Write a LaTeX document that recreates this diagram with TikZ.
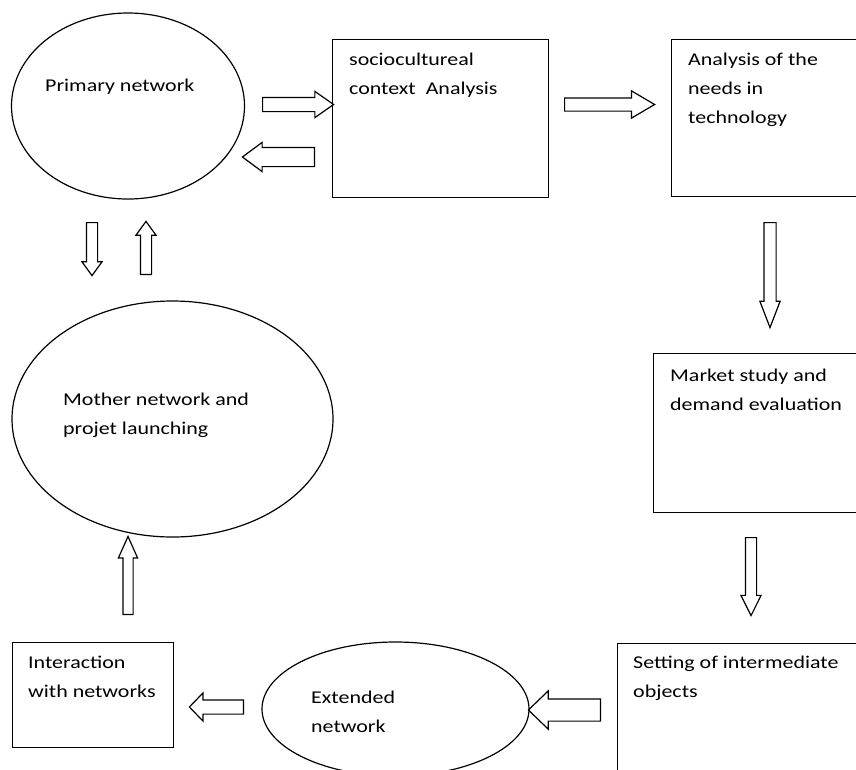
\documentclass[tikz,border=0pt]{standalone}
\usepackage{fontspec}
\setmainfont{Carlito}[FakeStretch=1.22]
\usetikzlibrary{shapes.geometric,shapes.arrows}
\begin{document}
\begin{tikzpicture}[x=1pt,y=-1pt,
  shapeline/.style={draw=black, line width=1.2pt},
  oval/.style={shapeline, ellipse, inner sep=0pt},
  box/.style={shapeline, rectangle, inner sep=0pt, anchor=north west},
  lbl/.style={anchor=north west, inner sep=0pt, align=left, font=\fontsize{18}{29}\selectfont},
  fat/.style n args={5}{shapeline, single arrow, anchor=tail, inner sep=#1,
     single arrow head extend=#2, single arrow tip angle=#3,
     minimum height=#4, shape border rotate=#5, single arrow head indent=0pt, minimum width=1pt},
]
\useasboundingbox (0,0) rectangle (856,769);
\clip (0,0) rectangle (856,769);

% shapes
\node[oval, minimum width=233pt, minimum height=186pt] (primary) at (128,106) {};
\node[box, minimum width=216pt, minimum height=158pt] (socio) at (332,39) {};
\node[box, minimum width=230pt, minimum height=157pt] (needs) at (671,39) {};
\node[oval, minimum width=321pt, minimum height=236pt] (mother) at (172.5,419) {};
\node[box, minimum width=250pt, minimum height=159pt] (market) at (653,353) {};
\node[box, minimum width=280pt, minimum height=160pt] (setting) at (617,643) {};
\node[oval, minimum width=267pt, minimum height=134pt] (extended) at (395.5,709) {};
\node[box, minimum width=161pt, minimum height=105pt] (interact) at (12,642) {};

% labels
\node[lbl] (tprimary) at (45,70.7) {\strut Primary network};
\node[lbl] (tsocio) at (349,44.7) {\strut sociocultureal\\context\ \ Analysis};
\node[lbl] (tneeds) at (688,44.7) {\strut Analysis of the\\needs in\\technology};
\node[lbl] (tmother) at (63,384.7) {\strut Mother network and\\projet launching};
\node[lbl] (tmarket) at (670,360.7) {\strut Market study and\\demand evaluation};
\node[lbl] (tsetting) at (633,647.7) {\strut Setting of intermediate\\objects};
\node[lbl] (textended) at (311,682.7) {\strut Extended\\network};
\node[lbl] (tinteract) at (28,647.7) {\strut Interaction\\with networks};

% block arrows
\node[fat={6.5pt}{6pt}{70}{71pt}{0}] (a1) at (262,104.5) {};
\node[fat={9pt}{5pt}{73}{72pt}{180}] (a2) at (315,157) {};
\node[fat={6pt}{7pt}{61}{90pt}{0}] (a3) at (564,104.5) {};
\node[fat={5.5pt}{4pt}{42}{105pt}{270}] (a4) at (770,222) {};
\node[fat={5pt}{4.5pt}{53}{78pt}{270}] (a5) at (751,537) {};
\node[fat={10.5pt}{8pt}{88}{72pt}{180}] (a6) at (601,710) {};
\node[fat={6.5pt}{7pt}{92}{54pt}{180}] (a7) at (244,707) {};
\node[fat={4.5pt}{4.5pt}{48}{78pt}{90}] (a8) at (128,615) {};
\node[fat={5pt}{4.5pt}{72}{53pt}{270}] (a9) at (92,222) {};
\node[fat={5pt}{4.5pt}{72}{53pt}{90}] (a10) at (146,275) {};
\end{tikzpicture}
\end{document}
